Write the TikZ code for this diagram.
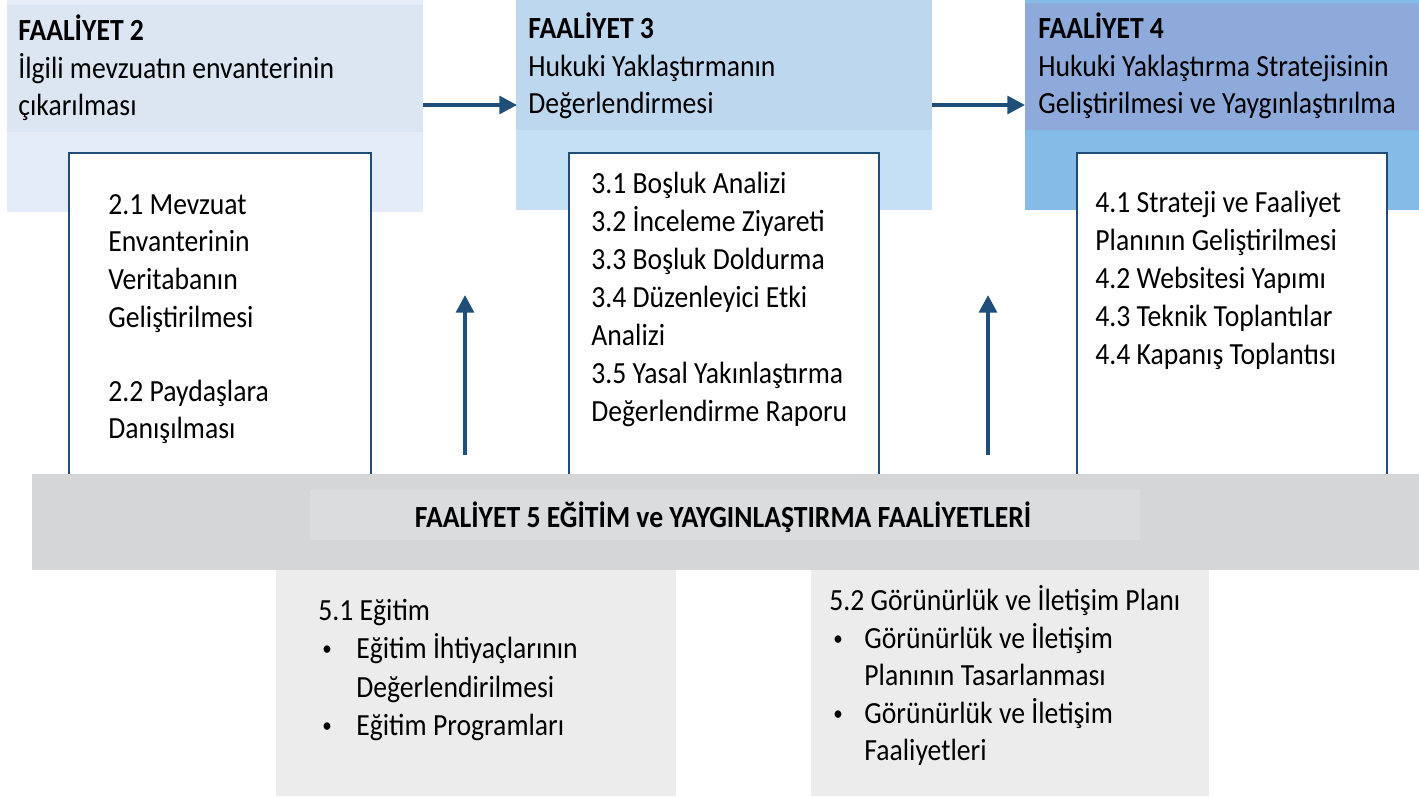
\documentclass[tikz,border=0pt]{standalone}
\usepackage{fontspec}
\setmainfont{Carlito}[FakeStretch=0.9]
\usetikzlibrary{arrows.meta}

\definecolor{panelA}{HTML}{E4EDF7}
\definecolor{headA}{HTML}{DCE6F2}
\definecolor{panelB}{HTML}{C5DFF4}
\definecolor{headB}{HTML}{BDD7EE}
\definecolor{panelC}{HTML}{85BCE7}
\definecolor{headC}{HTML}{8EAADB}
\definecolor{bandgray}{HTML}{D5D6D8}
\definecolor{bandinner}{HTML}{DBDCDE}
\definecolor{subgray}{HTML}{ECECEC}
\definecolor{navy}{HTML}{1F4E79}

\tikzset{
  txt/.style={anchor=base west, inner sep=0pt, font=\fontsize{17.5}{21}\selectfont},
  ttl/.style={txt, font=\fontsize{17.5}{21}\selectfont\bfseries},
  dot/.style={txt, font=\fontsize{12}{14}\selectfont, yshift=1.5pt},
  taskbox/.style={draw=navy, line width=1.6pt, fill=white},
  arr/.style={draw=navy, line width=2.2pt, -{Triangle[length=10pt,width=10pt]}}
}

\begin{document}
\begin{tikzpicture}[x=0.02cm, y=-0.02cm]
  \useasboundingbox (0,0) rectangle (1419,796);

  % column panels
  \fill[panelA] (7,0) rectangle (423,212);
  \fill[headA] (7,5) rectangle (423,132);
  \fill[panelB] (516,0) rectangle (932,210);
  \fill[headB] (516,0) rectangle (932,130);
  \fill[panelC] (1025,0) rectangle (1419,210);
  \fill[headC] (1025,3) rectangle (1419,130);

  % header texts
  \node[ttl] (f2) at (18,40) {FAALİYET 2};
  \node[txt] (f2a) at (18,78) {İlgili mevzuatın envanterinin};
  \node[txt] (f2b) at (18,115) {çıkarılması};
  \node[ttl] (f3) at (528,38) {FAALİYET 3};
  \node[txt] (f3a) at (528,76) {Hukuki Yaklaştırmanın};
  \node[txt] (f3b) at (528,113) {Değerlendirmesi};
  \node[ttl] (f4) at (1038,38) {FAALİYET 4};
  \node[txt] (f4a) at (1038,76) {Hukuki Yaklaştırma Stratejisinin};
  \node[txt] (f4b) at (1038,113) {Geliştirilmesi ve Yaygınlaştırılma};

  % task boxes
  \draw[taskbox] (69,474) -- (69,153) -- (371,153) -- (371,474);
  \draw[taskbox] (569,474) -- (569,153) -- (879,153) -- (879,474);
  \draw[taskbox] (1077,474) -- (1077,153) -- (1387,153) -- (1387,474);

  \foreach \t [count=\i] in {2.1 Mevzuat, Envanterinin, Veritabanın, Geliştirilmesi}
    \node[txt] (b2-\i) at (108,214+37.7*\i-37.7) {\t};
  \node[txt] (b2-5) at (108,401) {2.2 Paydaşlara};
  \node[txt] (b2-6) at (108,438) {Danışılması};

  \foreach \t [count=\i] in {3.1 Boşluk Analizi, 3.2 İnceleme Ziyareti, 3.3 Boşluk Doldurma,
      3.4 Düzenleyici Etki, Analizi, 3.5 Yasal Yakınlaştırma, Değerlendirme Raporu}
    \node[txt] (b3-\i) at (591,193+38*\i-38) {\t};

  \foreach \t [count=\i] in {4.1 Strateji ve Faaliyet, Planının Geliştirilmesi,
      4.2 Websitesi Yapımı, 4.3 Teknik Toplantılar, 4.4 Kapanış Toplantısı}
    \node[txt] (b4-\i) at (1095,212+38*\i-38) {\t};

  % arrows
  \coordinate (a1) at (423,105);
  \coordinate (a2) at (517,105);
  \coordinate (a3) at (932,105);
  \coordinate (a4) at (1025,105);
  \coordinate (v1) at (465,455);
  \coordinate (w1) at (465,295);
  \coordinate (v2) at (988,455);
  \coordinate (w2) at (988,295);
  \draw[arr] (a1) -- (a2);
  \draw[arr] (a3) -- (a4);
  \draw[arr] (v1) -- (w1);
  \draw[arr] (v2) -- (w2);

  % training band
  \fill[bandgray] (32,474) rectangle (1419,570);
  \fill[bandinner] (310,490) rectangle (1140,540);
  \node[ttl, anchor=base] (f5) at (723,527) {FAALİYET 5 EĞİTİM ve YAYGINLAŞTIRMA FAALİYETLERİ};

  % sub activities
  \fill[subgray] (276,570) rectangle (676,796);
  \fill[subgray] (811,570) rectangle (1209,796);

  \node[txt] (s1) at (318,620) {5.1 Eğitim};
  \node[dot] (s1-1) at (322,658) {•};
  \node[txt] (s1-2) at (356,658) {Eğitim İhtiyaçlarının};
  \node[txt] (s1-3) at (356,697) {Değerlendirilmesi};
  \node[dot] (s1-4) at (322,735) {•};
  \node[txt] (s1-5) at (356,735) {Eğitim Programları};

  \node[txt] (s2) at (829,610) {5.2 Görünürlük ve İletişim Planı};
  \node[dot] (s2-1) at (833,648) {•};
  \node[txt] (s2-2) at (864,648) {Görünürlük ve İletişim};
  \node[txt] (s2-3) at (864,685) {Planının Tasarlanması};
  \node[dot] (s2-4) at (833,723) {•};
  \node[txt] (s2-5) at (864,723) {Görünürlük ve İletişim};
  \node[txt] (s2-6) at (864,760) {Faaliyetleri};
\end{tikzpicture}
\end{document}
